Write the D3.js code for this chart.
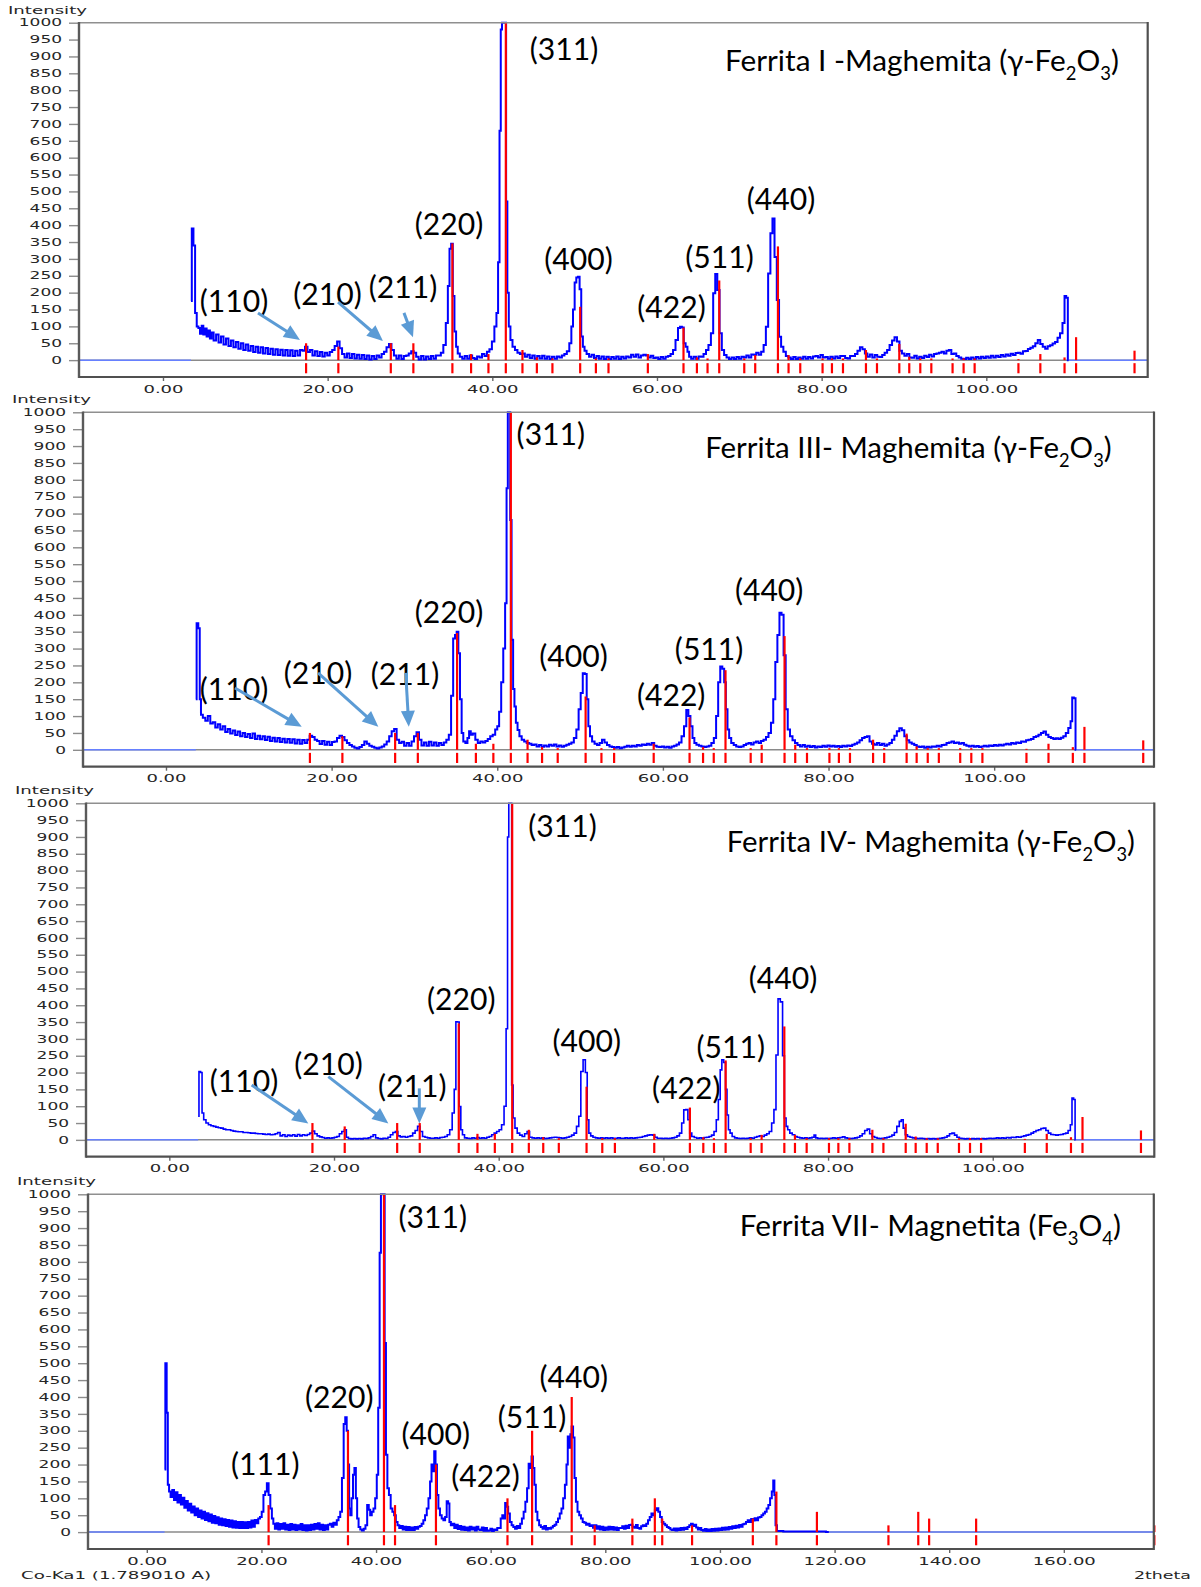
<!DOCTYPE html>
<html><head><meta charset="utf-8">
<script src="https://cdn.jsdelivr.net/npm/d3@7"></script>
<style>
body{margin:0;background:#fff}
</style></head>
<body>
<svg id="chart" width="1201" height="1587" style="background:#fff"></svg>
<script>
// ---------------- DATA ----------------
const yTickValues = [0,50,100,150,200,250,300,350,400,450,500,550,600,650,700,750,800,850,900,950,1000];
const xTicksMaghemite = [0,20,40,60,80,100];
const xTicksMagnetite = [0,20,40,60,80,100,120,140,160];

// reference card sticks [2theta, intensity]
const maghemiteRef = [[17.38,50],[21.3,40],[27.67,50],[30.41,50],[35.15,346],[37.42,18],[39.53,18],[41.64,1000],[43.66,30],[45.41,8],[47.3,5],[50.67,158],[52.58,5],[54.11,5],[58.89,18],[63.22,96],[64.85,8],[66.14,5],[67.56,236],[70.6,5],[71.93,15],[74.69,337],[75.98,15],[77.4,5],[80.11,5],[81.25,5],[82.59,5],[85.38,30],[86.72,5],[89.43,48],[90.64,10],[91.98,5],[93.32,5],[95.9,5],[97.24,5],[98.58,5],[103.9,3],[106.56,18],[109.5,8],[110.9,68],[118.0,28]];
const magnetiteRef = [[21.25,80],[35.1,300],[41.38,1000],[43.31,80],[50.45,200],[62.93,100],[67.23,300],[74.14,400],[78.15,20],[84.72,40],[88.64,100],[89.93,40],[95.14,20],[105.74,40],[109.85,120],[116.92,60],[129.4,20],[134.6,60],[136.5,40],[144.7,40],[175.8,20]];

// measured patterns [2theta, intensity]
const ferritaI = [[3.4,175],[3.6,390],[3.8,340],[4.0,140],[4.2,100],[4.4,95],[4.6,78],[4.8,102],[5.0,76],[5.2,94],[5.4,70],[5.6,88],[5.8,64],[6.0,82],[6.3,58],[6.6,76],[6.9,52],[7.2,70],[7.5,46],[7.8,64],[8.1,42],[8.4,58],[8.7,38],[9.0,54],[9.3,34],[9.6,50],[9.9,30],[10.2,46],[10.5,28],[10.8,42],[11.1,24],[11.4,40],[11.7,22],[12.0,38],[12.3,20],[12.6,36],[12.9,18],[13.2,34],[13.5,16],[13.8,32],[14.1,15],[14.4,31],[14.7,14],[15.0,30],[15.3,13],[15.6,29],[15.9,12],[16.2,28],[16.5,14],[16.8,30],[17.1,28],[17.4,40],[17.7,24],[18.0,30],[18.3,14],[18.6,26],[18.9,12],[19.2,24],[19.5,11],[19.8,22],[20.1,14],[20.4,24],[20.7,30],[21.0,42],[21.3,55],[21.6,35],[21.9,18],[22.2,8],[22.5,20],[22.8,6],[23.1,18],[23.4,5],[23.7,16],[24.0,4],[24.3,15],[24.6,3],[24.9,14],[25.2,2],[25.5,12],[25.8,3],[26.1,14],[26.4,8],[26.7,18],[27.0,25],[27.3,38],[27.6,48],[27.9,30],[28.2,14],[28.5,4],[28.8,14],[29.1,3],[29.4,12],[29.7,14],[30.0,20],[30.3,26],[30.6,22],[30.9,10],[31.2,2],[31.5,12],[31.8,2],[32.1,11],[32.4,3],[32.7,12],[33.0,4],[33.3,14],[33.6,14],[33.9,22],[34.2,45],[34.5,110],[34.7,220],[34.9,330],[35.1,345],[35.3,190],[35.5,85],[35.7,40],[35.9,20],[36.2,10],[36.5,4],[36.8,12],[37.1,4],[37.4,14],[37.7,6],[38.0,3],[38.3,11],[38.6,8],[38.9,18],[39.2,12],[39.5,25],[39.8,32],[40.1,55],[40.4,100],[40.6,140],[40.8,290],[40.95,680],[41.1,980],[41.25,1000],[41.45,1000],[41.6,1000],[41.75,470],[41.9,200],[42.1,100],[42.3,60],[42.6,40],[42.9,30],[43.2,22],[43.5,18],[43.8,20],[44.1,10],[44.4,16],[44.7,6],[45.0,14],[45.3,4],[45.6,12],[45.9,5],[46.2,13],[46.5,4],[46.8,11],[47.1,3],[47.4,10],[47.7,4],[48.0,11],[48.3,8],[48.6,14],[48.9,18],[49.2,26],[49.5,50],[49.7,100],[49.9,150],[50.1,230],[50.3,245],[50.5,247],[50.7,210],[50.9,70],[51.1,40],[51.3,28],[51.6,18],[51.9,10],[52.2,16],[52.5,6],[52.8,12],[53.1,4],[53.4,11],[53.7,3],[54.0,10],[54.3,3],[54.6,9],[54.9,4],[55.2,11],[55.5,3],[55.8,10],[56.1,5],[56.4,11],[56.7,8],[57.0,16],[57.3,10],[57.6,17],[57.9,8],[58.2,14],[58.5,16],[58.8,14],[59.1,8],[59.4,13],[59.7,6],[60.0,8],[60.3,3],[60.6,9],[60.9,4],[61.2,10],[61.5,12],[61.8,18],[62.1,30],[62.4,60],[62.7,95],[62.9,99],[63.15,97],[63.35,50],[63.6,40],[63.8,25],[64.0,10],[64.3,4],[64.6,10],[64.9,4],[65.2,11],[65.5,10],[65.8,18],[66.1,30],[66.4,45],[66.7,80],[66.95,198],[67.2,255],[67.45,208],[67.75,80],[68.0,30],[68.3,15],[68.6,8],[68.9,3],[69.2,8],[69.5,3],[69.8,9],[70.1,4],[70.4,10],[70.7,8],[71.0,14],[71.3,8],[71.6,17],[71.9,16],[72.2,22],[72.5,16],[72.8,25],[73.1,45],[73.35,99],[73.65,257],[73.9,376],[74.15,420],[74.4,306],[74.7,178],[74.95,69],[75.2,40],[75.5,25],[75.8,12],[76.1,8],[76.4,3],[76.7,9],[77.0,3],[77.3,8],[77.6,4],[77.9,10],[78.2,4],[78.5,9],[78.8,5],[79.1,11],[79.4,12],[79.7,8],[80.0,15],[80.3,8],[80.6,9],[80.9,4],[81.2,10],[81.5,5],[81.8,11],[82.1,6],[82.4,12],[82.7,12],[83.0,6],[83.3,5],[83.6,12],[83.9,12],[84.2,18],[84.5,28],[84.8,38],[85.1,32],[85.4,20],[85.7,10],[86.0,17],[86.3,8],[86.6,15],[86.9,10],[87.2,9],[87.5,15],[87.8,22],[88.1,30],[88.4,45],[88.7,58],[89.0,68],[89.3,55],[89.6,28],[89.9,20],[90.2,13],[90.5,18],[90.8,8],[91.1,7],[91.4,13],[91.7,5],[92.0,10],[92.3,6],[92.6,13],[92.9,9],[93.2,16],[93.5,11],[93.8,18],[94.1,20],[94.4,22],[94.7,25],[95.0,20],[95.3,28],[95.6,30],[95.9,18],[96.2,20],[96.5,12],[96.8,8],[97.1,4],[97.4,3],[97.7,7],[98.0,3],[98.3,8],[98.6,4],[98.9,9],[99.2,5],[99.5,10],[99.8,6],[100.1,11],[100.4,7],[100.7,13],[101.0,8],[101.3,13],[101.6,9],[101.9,15],[102.2,11],[102.5,17],[102.8,13],[103.1,19],[103.4,15],[103.7,21],[104.0,22],[104.3,19],[104.6,26],[104.9,27],[105.2,33],[105.5,37],[105.8,41],[106.1,50],[106.4,60],[106.7,48],[107.0,40],[107.3,34],[107.6,41],[107.9,44],[108.2,49],[108.5,54],[108.8,66],[109.1,80],[109.4,110],[109.6,190],[109.8,185],[110.0,0]];

const ferritaIII = [[3.6,150],[3.8,375],[4.0,360],[4.15,150],[4.3,104],[4.6,95],[4.9,86],[5.2,100],[5.5,78],[5.8,82],[6.1,66],[6.4,76],[6.7,60],[7.0,70],[7.3,53],[7.6,62],[7.9,48],[8.2,57],[8.5,44],[8.8,54],[9.1,40],[9.4,50],[9.7,38],[10.0,47],[10.3,35],[10.6,48],[10.9,32],[11.2,42],[11.5,31],[11.8,40],[12.1,29],[12.4,39],[12.7,26],[13.0,36],[13.3,25],[13.6,35],[13.9,23],[14.2,33],[14.5,22],[14.8,32],[15.1,21],[15.4,31],[15.7,19],[16.0,30],[16.3,18],[16.6,29],[16.9,20],[17.2,30],[17.5,42],[17.8,38],[18.1,30],[18.4,26],[18.7,17],[19.0,26],[19.3,15],[19.6,24],[19.9,14],[20.2,23],[20.5,25],[20.8,35],[21.1,42],[21.4,38],[21.7,28],[22.0,20],[22.3,14],[22.6,10],[22.9,6],[23.2,4],[23.5,8],[23.8,14],[24.1,25],[24.4,18],[24.7,12],[25.0,9],[25.3,6],[25.6,4],[25.9,7],[26.2,10],[26.5,16],[26.8,25],[27.1,40],[27.4,55],[27.7,62],[28.0,30],[28.3,20],[28.6,24],[28.9,12],[29.2,20],[29.5,12],[29.8,25],[30.1,40],[30.4,52],[30.7,30],[31.0,13],[31.3,22],[31.6,12],[31.9,24],[32.2,13],[32.5,22],[32.8,12],[33.1,20],[33.4,14],[33.7,22],[34.0,30],[34.3,45],[34.55,160],[34.8,330],[35.0,340],[35.2,350],[35.4,286],[35.6,150],[35.8,50],[36.0,25],[36.3,20],[36.5,35],[36.7,55],[36.9,45],[37.2,48],[37.5,30],[37.8,20],[38.1,25],[38.4,22],[38.7,26],[39.0,32],[39.3,40],[39.6,45],[39.9,60],[40.1,70],[40.35,113],[40.6,200],[40.85,300],[41.05,434],[41.2,775],[41.35,1000],[41.5,1000],[41.63,681],[41.83,326],[42.0,180],[42.15,128],[42.35,80],[42.55,59],[42.8,40],[43.1,30],[43.4,25],[43.7,20],[44.0,18],[44.3,14],[44.6,16],[44.9,10],[45.2,14],[45.5,9],[45.8,13],[46.1,10],[46.4,15],[46.7,12],[47.0,16],[47.3,10],[47.6,13],[47.9,9],[48.2,12],[48.5,15],[48.8,18],[49.1,22],[49.4,35],[49.7,60],[49.95,120],[50.2,168],[50.45,227],[50.7,225],[50.9,150],[51.1,70],[51.3,40],[51.6,25],[51.9,18],[52.2,14],[52.5,20],[52.8,30],[53.1,22],[53.4,14],[53.7,10],[54.0,8],[54.3,6],[54.6,8],[54.9,5],[55.2,7],[55.5,9],[55.8,12],[56.1,9],[56.4,12],[56.7,10],[57.0,14],[57.3,12],[57.6,16],[57.9,14],[58.2,18],[58.5,15],[58.8,20],[59.1,12],[59.4,9],[59.7,8],[60.0,10],[60.3,7],[60.6,9],[60.9,6],[61.2,10],[61.5,12],[61.8,16],[62.1,22],[62.4,40],[62.7,70],[62.95,118],[63.2,100],[63.45,70],[63.7,35],[63.9,20],[64.2,15],[64.5,12],[64.8,10],[65.1,8],[65.4,10],[65.7,12],[66.0,20],[66.3,35],[66.55,100],[66.8,200],[67.05,247],[67.3,240],[67.5,200],[67.7,120],[67.9,60],[68.1,35],[68.4,20],[68.7,14],[69.0,10],[69.3,8],[69.6,10],[69.9,14],[70.2,18],[70.5,20],[70.8,16],[71.1,22],[71.4,25],[71.7,20],[72.0,26],[72.3,30],[72.6,38],[72.9,50],[73.2,80],[73.45,150],[73.7,260],[73.95,340],[74.2,406],[74.45,400],[74.7,280],[74.95,120],[75.2,60],[75.5,40],[75.8,28],[76.1,20],[76.4,14],[76.7,10],[77.0,14],[77.3,9],[77.6,12],[77.9,8],[78.2,11],[78.5,7],[78.8,10],[79.1,8],[79.4,12],[79.7,9],[80.0,13],[80.3,10],[80.6,12],[80.9,9],[81.2,11],[81.5,8],[81.8,12],[82.1,10],[82.4,13],[82.7,11],[83.0,15],[83.3,18],[83.6,22],[83.9,28],[84.2,35],[84.5,38],[84.8,40],[85.1,25],[85.4,18],[85.7,15],[86.0,20],[86.3,14],[86.6,18],[86.9,12],[87.2,16],[87.5,20],[87.8,30],[88.1,42],[88.4,55],[88.7,64],[89.0,58],[89.3,40],[89.6,28],[89.9,22],[90.2,18],[90.5,14],[90.8,10],[91.1,8],[91.4,10],[91.7,6],[92.0,9],[92.3,7],[92.6,10],[92.9,9],[93.2,12],[93.5,10],[93.8,14],[94.1,15],[94.4,20],[94.7,22],[95.0,25],[95.3,20],[95.6,22],[95.9,18],[96.2,20],[96.5,15],[96.8,12],[97.1,10],[97.4,12],[97.7,9],[98.0,11],[98.3,8],[98.6,10],[98.9,12],[99.2,10],[99.5,13],[99.8,11],[100.1,14],[100.4,12],[100.7,15],[101.0,13],[101.3,16],[101.6,18],[101.9,16],[102.2,20],[102.5,18],[102.8,22],[103.1,20],[103.4,25],[103.7,24],[104.0,28],[104.3,30],[104.6,32],[104.9,38],[105.2,40],[105.5,45],[105.8,50],[106.1,54],[106.4,45],[106.7,38],[107.0,35],[107.3,32],[107.6,34],[107.9,32],[108.2,36],[108.5,40],[108.8,50],[109.1,65],[109.35,85],[109.5,155],[109.75,153],[109.9,0]];

const ferritaIV = [[3.5,70],[3.7,203],[3.9,200],[4.05,80],[4.3,60],[4.6,50],[4.9,45],[5.2,42],[5.5,40],[5.8,38],[6.1,36],[6.4,35],[6.7,32],[7.0,30],[7.3,30],[7.6,28],[7.9,26],[8.2,25],[8.5,24],[8.8,24],[9.1,22],[9.4,22],[9.7,21],[10.0,20],[10.3,20],[10.6,19],[10.9,18],[11.2,18],[11.5,17],[11.8,16],[12.1,17],[12.4,15],[12.7,16],[13.0,18],[13.3,22],[13.6,12],[13.9,15],[14.2,10],[14.5,14],[14.8,12],[15.1,15],[15.4,11],[15.7,16],[16.0,12],[16.3,15],[16.6,13],[16.9,16],[17.2,20],[17.5,26],[17.8,18],[18.1,12],[18.4,9],[18.7,7],[19.0,5],[19.3,6],[19.6,5],[19.9,6],[20.2,8],[20.5,10],[20.8,18],[21.1,25],[21.4,30],[21.6,8],[21.9,4],[22.2,3],[22.5,4],[22.8,3],[23.1,4],[23.4,3],[23.7,5],[24.0,4],[24.3,6],[24.6,10],[24.9,15],[25.2,6],[25.5,4],[25.8,3],[26.1,5],[26.4,4],[26.7,8],[27.0,15],[27.3,22],[27.6,25],[27.9,12],[28.2,9],[28.5,10],[28.8,8],[29.1,10],[29.4,12],[29.7,20],[30.0,28],[30.3,40],[30.6,25],[30.9,10],[31.2,8],[31.5,6],[31.8,5],[32.1,5],[32.4,6],[32.7,5],[33.0,7],[33.3,8],[33.6,10],[33.9,15],[34.2,30],[34.5,80],[34.7,150],[34.9,351],[35.1,350],[35.3,99],[35.5,30],[35.7,15],[36.0,6],[36.3,5],[36.6,4],[36.9,6],[37.2,5],[37.5,7],[37.8,5],[38.1,6],[38.4,5],[38.7,8],[39.0,10],[39.3,15],[39.6,20],[39.9,25],[40.2,30],[40.5,45],[40.8,100],[41.0,330],[41.15,900],[41.3,1000],[41.5,1000],[41.65,163],[41.85,65],[42.1,35],[42.4,20],[42.7,14],[43.0,10],[43.3,18],[43.6,25],[43.9,8],[44.2,6],[44.5,5],[44.8,6],[45.1,5],[45.4,6],[45.7,4],[46.0,5],[46.3,6],[46.6,7],[46.9,8],[47.2,7],[47.5,6],[47.8,5],[48.1,6],[48.4,8],[48.7,10],[49.0,14],[49.3,20],[49.6,40],[49.85,70],[50.1,203],[50.4,238],[50.65,200],[50.85,60],[51.05,20],[51.3,12],[51.6,8],[51.9,6],[52.2,5],[52.5,6],[52.8,5],[53.1,6],[53.4,5],[53.7,6],[54.0,5],[54.3,5],[54.6,6],[54.9,5],[55.2,5],[55.5,6],[55.8,5],[56.1,6],[56.4,5],[56.7,6],[57.0,7],[57.3,8],[57.6,10],[57.9,12],[58.2,14],[58.5,15],[58.8,14],[59.1,8],[59.4,5],[59.7,5],[60.0,4],[60.3,5],[60.6,4],[60.9,5],[61.2,6],[61.5,8],[61.8,12],[62.1,20],[62.35,50],[62.6,89],[62.85,90],[63.1,60],[63.3,20],[63.6,10],[63.9,7],[64.2,5],[64.5,6],[64.8,5],[65.1,7],[65.4,8],[65.7,10],[66.0,14],[66.3,25],[66.55,60],[66.8,120],[67.0,208],[67.2,238],[67.45,230],[67.65,150],[67.8,74],[68.0,30],[68.2,20],[68.5,10],[68.8,6],[69.1,5],[69.4,4],[69.7,5],[70.0,4],[70.3,5],[70.6,6],[70.9,5],[71.2,8],[71.5,10],[71.8,12],[72.1,10],[72.4,14],[72.7,18],[73.0,25],[73.3,50],[73.55,90],[73.8,252],[74.05,419],[74.35,410],[74.6,250],[74.8,65],[75.0,40],[75.2,30],[75.5,20],[75.8,15],[76.1,10],[76.4,8],[76.7,6],[77.0,5],[77.3,6],[77.6,5],[77.9,6],[78.2,8],[78.4,14],[78.6,6],[78.9,4],[79.2,5],[79.5,4],[79.8,5],[80.1,4],[80.4,5],[80.7,6],[81.0,5],[81.3,6],[81.6,7],[81.9,9],[82.2,6],[82.5,5],[82.8,4],[83.1,5],[83.4,6],[83.7,8],[84.0,12],[84.3,18],[84.6,28],[84.9,32],[85.2,18],[85.5,10],[85.8,7],[86.1,5],[86.4,4],[86.7,5],[87.0,6],[87.3,8],[87.6,10],[87.9,14],[88.2,22],[88.5,40],[88.8,55],[89.0,60],[89.25,35],[89.5,15],[89.8,10],[90.1,8],[90.4,6],[90.7,5],[91.0,4],[91.3,5],[91.6,4],[91.9,3],[92.2,4],[92.5,3],[92.8,4],[93.1,3],[93.4,4],[93.7,5],[94.0,6],[94.3,8],[94.6,12],[94.9,18],[95.2,20],[95.5,14],[95.8,8],[96.1,5],[96.4,4],[96.7,3],[97.0,4],[97.3,3],[97.6,4],[97.9,3],[98.2,4],[98.5,3],[98.8,4],[99.1,3],[99.4,4],[99.7,5],[100.0,4],[100.3,5],[100.6,6],[100.9,5],[101.2,6],[101.5,5],[101.8,7],[102.1,6],[102.4,8],[102.7,7],[103.0,9],[103.3,8],[103.6,10],[103.9,12],[104.2,14],[104.5,16],[104.8,20],[105.1,24],[105.4,28],[105.7,30],[106.0,34],[106.3,35],[106.6,28],[106.9,20],[107.2,16],[107.5,15],[107.8,14],[108.1,15],[108.4,16],[108.7,18],[109.0,20],[109.3,28],[109.55,45],[109.7,124],[109.95,120],[110.05,0]];

const ferritaVII = [[3.1,185],[3.37,500],[3.56,353],[3.77,140],[4.0,120],[4.3,104],[4.6,125],[4.9,95],[5.2,118],[5.5,88],[5.8,110],[6.1,82],[6.4,102],[6.7,72],[7.0,92],[7.3,64],[7.6,84],[7.9,58],[8.2,76],[8.5,50],[8.8,70],[9.1,45],[9.4,64],[9.7,40],[10.0,60],[10.3,36],[10.6,56],[10.9,32],[11.2,52],[11.5,28],[11.8,48],[12.1,26],[12.4,44],[12.7,22],[13.0,40],[13.3,20],[13.6,38],[13.9,18],[14.2,36],[14.5,16],[14.8,34],[15.1,14],[15.4,32],[15.7,13],[16.0,30],[16.3,12],[16.6,30],[16.9,12],[17.2,29],[17.5,12],[17.8,30],[18.1,14],[18.4,34],[18.7,16],[19.0,36],[19.3,26],[19.6,40],[19.9,45],[20.2,60],[20.5,110],[20.8,120],[21.1,145],[21.4,110],[21.7,70],[21.95,40],[22.2,25],[22.5,10],[22.8,26],[23.1,8],[23.4,24],[23.7,10],[24.0,26],[24.3,8],[24.6,22],[24.9,6],[25.2,24],[25.5,8],[25.8,22],[26.1,6],[26.4,20],[26.7,8],[27.0,24],[27.3,6],[27.6,20],[27.9,5],[28.2,20],[28.5,6],[28.8,22],[29.1,8],[29.4,24],[29.7,10],[30.0,26],[30.3,8],[30.6,22],[30.9,6],[31.2,20],[31.5,8],[31.8,22],[32.1,25],[32.4,16],[32.7,28],[33.0,22],[33.3,35],[33.6,45],[33.9,60],[34.2,160],[34.5,320],[34.75,340],[35.0,300],[35.2,200],[35.4,70],[35.6,50],[35.85,100],[36.1,170],[36.35,190],[36.6,100],[36.8,40],[37.1,15],[37.4,8],[37.7,5],[38.0,10],[38.3,20],[38.6,80],[38.85,66],[39.1,50],[39.4,60],[39.7,70],[40.0,100],[40.25,170],[40.5,368],[40.75,827],[40.95,1000],[41.2,1000],[41.4,1000],[41.6,560],[41.85,229],[42.1,130],[42.4,110],[42.7,70],[43.0,60],[43.3,50],[43.6,30],[43.9,20],[44.2,12],[44.5,18],[44.8,8],[45.1,16],[45.4,6],[45.7,15],[46.0,6],[46.3,14],[46.6,6],[46.9,15],[47.2,10],[47.5,16],[47.8,18],[48.1,25],[48.4,35],[48.7,50],[49.0,70],[49.3,100],[49.55,150],[49.8,200],[50.05,180],[50.25,239],[50.5,200],[50.75,110],[51.0,70],[51.3,50],[51.6,40],[51.9,35],[52.2,45],[52.45,91],[52.7,85],[52.9,30],[53.2,20],[53.5,25],[53.8,12],[54.1,22],[54.4,9],[54.7,18],[55.0,7],[55.3,16],[55.6,6],[55.9,14],[56.2,5],[56.5,16],[56.8,8],[57.1,14],[57.4,5],[57.7,16],[58.0,8],[58.3,6],[58.6,14],[58.9,4],[59.2,12],[59.5,4],[59.8,5],[60.1,10],[60.4,3],[60.7,8],[61.0,6],[61.3,12],[61.6,12],[61.9,40],[62.15,50],[62.4,40],[62.65,86],[62.9,75],[63.2,55],[63.5,30],[63.8,20],[64.1,15],[64.4,10],[64.7,18],[65.0,12],[65.3,25],[65.6,40],[65.9,60],[66.2,90],[66.5,130],[66.75,202],[67.0,190],[67.25,224],[67.5,190],[67.75,140],[68.0,60],[68.3,35],[68.6,20],[68.9,15],[69.2,10],[69.5,18],[69.8,8],[70.1,12],[70.4,10],[70.7,14],[71.0,18],[71.3,22],[71.6,30],[71.9,40],[72.2,55],[72.5,70],[72.8,100],[73.1,140],[73.35,200],[73.55,283],[73.8,250],[74.0,290],[74.25,313],[74.5,280],[74.75,160],[75.0,90],[75.3,60],[75.6,50],[75.9,40],[76.2,30],[76.5,28],[76.8,22],[77.1,25],[77.4,18],[77.7,20],[78.0,13],[78.3,20],[78.6,10],[78.9,17],[79.2,8],[79.5,16],[79.8,6],[80.1,14],[80.4,7],[80.7,16],[81.0,8],[81.3,15],[81.6,7],[81.9,14],[82.2,6],[82.5,12],[82.8,12],[83.1,17],[83.4,10],[83.7,19],[84.0,12],[84.3,21],[84.6,22],[84.9,16],[85.2,13],[85.5,21],[85.8,12],[86.1,10],[86.4,17],[86.7,20],[87.0,18],[87.3,25],[87.6,35],[87.9,45],[88.2,55],[88.5,50],[88.8,65],[89.1,71],[89.4,60],[89.7,45],[90.0,30],[90.3,25],[90.6,20],[90.9,15],[91.2,12],[91.5,8],[91.8,6],[92.1,11],[92.4,5],[92.7,11],[93.0,6],[93.3,12],[93.6,7],[93.9,13],[94.2,9],[94.5,15],[94.8,20],[95.1,25],[95.4,18],[95.7,22],[96.0,14],[96.3,8],[96.6,12],[96.9,6],[97.2,4],[97.5,9],[97.8,3],[98.1,8],[98.4,3],[98.7,9],[99.0,4],[99.3,10],[99.6,5],[99.9,11],[100.2,6],[100.5,13],[100.8,7],[101.1,14],[101.4,8],[101.7,15],[102.0,10],[102.3,17],[102.6,12],[102.9,19],[103.2,14],[103.5,21],[103.8,16],[104.1,23],[104.4,25],[104.7,30],[105.0,35],[105.3,30],[105.6,39],[105.9,34],[106.2,41],[106.5,35],[106.8,43],[107.1,45],[107.4,50],[107.7,55],[108.0,60],[108.3,70],[108.6,80],[108.9,100],[109.2,120],[109.4,153],[109.6,110],[109.8,20],[110.1,3],[112.0,2],[114.0,2],[116.0,2],[118.0,2],[119.0,0]];

// annotation labels [text, 2theta (centre), intensity (baseline)]
const labelsI = [["(311)",48.7,889],["(220)",34.74,371],["(400)",50.47,267],["(422)",61.76,125],["(511)",67.6,273],["(440)",75.06,445],["(110)",8.62,143],["(210)",19.98,163],["(211)",29.15,184]];
const labelsIII = [["(311)",46.47,903],["(220)",34.18,375],["(400)",49.2,246],["(422)",61.0,130],["(511)",65.58,266],["(440)",72.83,442],["(110)",8.21,148],["(210)",18.36,195],["(211)",28.86,192]];
const labelsIV = [["(311)",47.75,901],["(220)",35.46,386],["(400)",50.69,262],["(422)",62.79,120],["(511)",68.19,242],["(440)",74.53,448],["(110)",9.07,143],["(210)",19.33,193],["(211)",29.51,128]];
const labelsVII = [["(311)",49.9,899],["(220)",33.57,366],["(400)",50.43,258],["(422)",59.1,134],["(511)",67.21,309],["(440)",74.5,427],["(111)",20.68,169]];

// arrows [from 2theta, from I, to 2theta, to I]
const arrowsI = [[11.54,140,16.64,60],[21.26,172,26.72,57],[29.27,140,30.37,68]];
const arrowsIII = [[8.33,183,16.39,68],[18.36,228,25.64,68],[28.95,228,29.32,68]];
const arrowsIV = [[10.0,163,16.88,49],[19.31,188,26.6,49],[30.36,153,30.36,49]];

const titleI = ["Ferrita I -Maghemita (γ-Fe","2","O","3",")"];
const titleIII = ["Ferrita III- Maghemita (γ-Fe","2","O","3",")"];
const titleIV = ["Ferrita IV- Maghemita (γ-Fe","2","O","3",")"];
const titleVII = ["Ferrita VII- Magnetita (Fe","3","O","4",")"];

// ---------------- DRAWING ----------------
const svg = d3.select("#chart");
const ANN_FONT = "Lato, 'Noto Sans', sans-serif";
const TICK_FONT = "'DejaVu Sans', Verdana, sans-serif";
const ARROW_COLOR = "#5b9bd5";

// label font size so that "(311)" is ~68.5px wide
const probe = svg.append("text").attr("font-family", ANN_FONT).attr("font-size", 100).text("(311)");
const LABEL_SIZE = 100 * 68.5 / probe.node().getComputedTextLength();
probe.remove();

function drawPanel(cfg) {
  const f = cfg.frame;
  const g = svg.append("g");
  const x = d3.scaleLinear().domain(cfg.xDomain).range([f.left, f.right]);
  const y = d3.scaleLinear().domain([-50, 1000]).range([f.bottom, f.top]);

  // y axis
  const ya = g.append("g").attr("transform", `translate(${f.left},0)`)
    .call(d3.axisLeft(y).tickValues(yTickValues).tickSize(10).tickPadding(7).tickFormat(d3.format("d")));
  ya.select(".domain").remove();
  ya.attr("font-family", TICK_FONT).attr("font-size", 10);
  ya.selectAll(".tick line").attr("stroke", "#8c8c8c").attr("stroke-width", 1.4);
  ya.selectAll(".tick text").attr("fill", "#262626")
    .attr("textLength", d => String(d).length * 10.8).attr("lengthAdjust", "spacingAndGlyphs");

  // x axis
  const fmt = d3.format(".2f");
  const xa = g.append("g").attr("transform", `translate(0,${f.bottom})`)
    .call(d3.axisBottom(x).tickValues(cfg.xTicks).tickSize(4).tickPadding(4.5).tickFormat(fmt));
  xa.select(".domain").remove();
  xa.attr("font-family", TICK_FONT).attr("font-size", 10);
  xa.selectAll(".tick line").attr("stroke", "#666").attr("stroke-width", 1.4);
  xa.selectAll(".tick text").attr("fill", "#262626")
    .attr("textLength", d => { const s = fmt(d); return (s.length - 1) * 11.5 + 5.5; })
    .attr("lengthAdjust", "spacingAndGlyphs");

  // baseline (gray under data, light blue outside data)
  const y0 = y(0);
  g.append("line").attr("x1", f.left).attr("x2", f.right).attr("y1", y0).attr("y2", y0)
    .attr("stroke", "#8a8a8a").attr("stroke-width", 1.5);
  const first = cfg.data[0][0], last = cfg.data[cfg.data.length - 1][0];
  [[cfg.xDomain[0], first], [last, cfg.xDomain[1]]].forEach(([a, b]) => {
    g.append("line").attr("x1", x(a)).attr("x2", x(b)).attr("y1", y0).attr("y2", y0)
      .attr("stroke", "#6680ff").attr("stroke-width", 1.5);
  });

  // pattern
  const line = d3.line().x(d => x(d[0])).y(d => y(d[1])).curve(d3.curveStep);
  g.append("path").datum(cfg.data).attr("d", line).attr("fill", "none")
    .attr("stroke", "#0000ff").attr("stroke-width", cfg.lineWidth).attr("stroke-linejoin", "miter");

  // reference sticks
  const sticks = g.append("g").attr("stroke", "#ff0000").attr("stroke-width", 2.2);
  sticks.selectAll("line.up").data(cfg.ref).join("line").attr("class", "up")
    .attr("x1", d => x(d[0])).attr("x2", d => x(d[0])).attr("y1", y0).attr("y2", d => y(d[1]));
  sticks.selectAll("line.dn").data(cfg.ref).join("line").attr("class", "dn")
    .attr("x1", d => x(d[0])).attr("x2", d => x(d[0])).attr("y1", y(-9)).attr("y2", y(-39));

  // frame
  g.append("line").attr("x1", f.left).attr("x2", f.right).attr("y1", f.top).attr("y2", f.top)
    .attr("stroke", "#8f8f8f").attr("stroke-width", 1.5);
  g.append("line").attr("x1", f.left).attr("x2", f.left).attr("y1", f.top - 0.75).attr("y2", f.bottom + 1)
    .attr("stroke", "#5a5a5a").attr("stroke-width", 2.4);
  g.append("line").attr("x1", f.right).attr("x2", f.right).attr("y1", f.top - 0.75).attr("y2", f.bottom + 1)
    .attr("stroke", "#505050").attr("stroke-width", 2.2);
  g.append("line").attr("x1", f.left).attr("x2", f.right).attr("y1", f.bottom).attr("y2", f.bottom)
    .attr("stroke", "#505050").attr("stroke-width", 2.2);

  // "Intensity"
  g.append("text").attr("x", f.left - 71).attr("y", f.top - 9)
    .attr("font-family", TICK_FONT).attr("font-size", 10).attr("fill", "#262626")
    .attr("textLength", 79).attr("lengthAdjust", "spacingAndGlyphs").text("Intensity");

  // labels
  g.selectAll("text.lab").data(cfg.labels).join("text").attr("class", "lab")
    .attr("x", d => x(d[1])).attr("y", d => y(d[2])).attr("text-anchor", "middle")
    .attr("font-family", ANN_FONT).attr("font-size", LABEL_SIZE).attr("fill", "#000").text(d => d[0]);

  // arrows
  (cfg.arrows || []).forEach(a => {
    const x1 = x(a[0]), y1 = y(a[1]), x2 = x(a[2]), y2 = y(a[3]);
    const dx = x2 - x1, dy = y2 - y1, L = Math.hypot(dx, dy), ux = dx / L, uy = dy / L;
    const hl = 16, hw = 7;
    const bx = x2 - ux * hl, by = y2 - uy * hl;
    g.append("line").attr("x1", x1).attr("y1", y1).attr("x2", bx + ux * 2).attr("y2", by + uy * 2)
      .attr("stroke", ARROW_COLOR).attr("stroke-width", 3);
    g.append("path").attr("d", `M${x2},${y2}L${bx - uy * hw},${by + ux * hw}L${bx + uy * hw},${by - ux * hw}Z`)
      .attr("fill", ARROW_COLOR);
  });

  // title
  const tt = g.append("text").attr("x", x(cfg.titlePos[0])).attr("y", y(cfg.titlePos[1]))
    .attr("font-family", ANN_FONT).attr("font-size", 26).attr("fill", "#000");
  cfg.title.forEach((p, i) => {
    const ts = tt.append("tspan").text(p);
    if (i % 2 === 1) ts.attr("font-size", "0.62em").attr("dy", "0.5em");
    else if (i > 0) ts.attr("dy", "-0.31em");
  });
  const len = tt.node().getComputedTextLength();
  tt.attr("font-size", 26 * cfg.titleWidth / len);
}

drawPanel({frame:{left:79, top:22.7, right:1147.7, bottom:377}, xDomain:[-10.2,119.6], xTicks:xTicksMaghemite,
  data:ferritaI, ref:maghemiteRef, labels:labelsI, arrows:arrowsI, title:titleI, titlePos:[68.26,858], titleWidth:394, lineWidth:2});
drawPanel({frame:{left:83, top:412.3, right:1154, bottom:766.7}, xDomain:[-10.02,119.3], xTicks:xTicksMaghemite,
  data:ferritaIII, ref:maghemiteRef, labels:labelsIII, arrows:arrowsIII, title:titleIII, titlePos:[65.1,864], titleWidth:406.7, lineWidth:2});
drawPanel({frame:{left:86, top:803.3, right:1154.3, bottom:1156.7}, xDomain:[-10.12,119.62], xTicks:xTicksMaghemite,
  data:ferritaIV, ref:maghemiteRef, labels:labelsIV, arrows:arrowsIV, title:titleIV, titlePos:[67.7,856], titleWidth:408.3, lineWidth:1.6});
drawPanel({frame:{left:88, top:1194.3, right:1153.8, bottom:1549}, xDomain:[-10.26,175.7], xTicks:xTicksMagnetite,
  data:ferritaVII, ref:magnetiteRef, labels:labelsVII, arrows:[], title:titleVII, titlePos:[103.45,877], titleWidth:381.5, lineWidth:2});

// footer texts
svg.append("text").attr("x", 21).attr("y", 1579).attr("font-family", TICK_FONT).attr("font-size", 10)
  .attr("fill", "#262626").attr("textLength", 190).attr("lengthAdjust", "spacingAndGlyphs").text("Co-Ka1 (1.789010 A)");
svg.append("text").attr("x", 1134).attr("y", 1579).attr("font-family", TICK_FONT).attr("font-size", 10)
  .attr("fill", "#262626").attr("textLength", 57).attr("lengthAdjust", "spacingAndGlyphs").text("2theta");
</script>
</body></html>
